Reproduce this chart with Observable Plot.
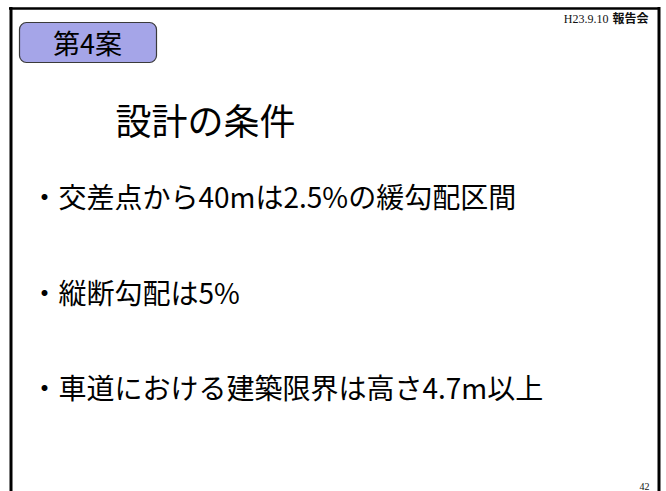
<!DOCTYPE html>
<html>
<head>
<meta charset="utf-8">
<script src="https://cdn.jsdelivr.net/npm/d3@7"></script>
<script src="https://cdn.jsdelivr.net/npm/@observablehq/plot@0.6"></script>
<style>
  html, body { margin: 0; padding: 0; background: #fff; }
  #chart svg { display: block; }
</style>
</head>
<body>
<div id="chart"></div>
<script>
// ---- content ----
const badge = ["第4案"];
const title = ["設計の条件"];
const bullets = [
  "・交差点から40mは2.5%の緩勾配区間",
  "・縦断勾配は5%",
  "・車道における建築限界は高さ4.7m以上"
];
const headerDate = ["H23.9.10"];
const headerLabel = ["報告会"];
const pageNo = ["42"];

// ---- layout (slide pixel space) ----
const W = 666, H = 491;
const jp = "'Noto Sans CJK JP', 'Noto Sans', sans-serif";
const serif = "'Liberation Serif', 'DejaVu Serif', serif";

const chart = Plot.plot({
  width: W,
  height: H,
  margin: 0,
  x: {domain: [0, W], range: [0, W], axis: null},
  y: {domain: [0, H], range: [0, H], axis: null},
  style: {background: "#fff", fontFamily: jp, overflow: "visible"},
  marks: [
    // slide frame
    Plot.ruleY([8], {x1: 9, x2: 660, stroke: "#000", strokeWidth: 2.5}),
    Plot.ruleX([10.5], {y1: 7, y2: H, stroke: "#000", strokeWidth: 3}),
    Plot.ruleX([658.5], {y1: 7, y2: H, stroke: "#000", strokeWidth: 3}),
    // header
    Plot.text(headerLabel, {x: 648, y: 19, text: d => d, textAnchor: "end",
      fontSize: 12, fontWeight: "bold", fontFamily: jp, fill: "#111"}),
    Plot.text(headerDate, {x: 608, y: 19, text: d => d, textAnchor: "end",
      fontSize: 12, fontFamily: serif, fill: "#111"}),
    // badge
    Plot.rect(badge, {x1: 19.5, x2: 156.5, y1: 22.5, y2: 62.5, rx: 7, ry: 7,
      fill: "#a5a5e8", stroke: "#3a3a3a", strokeWidth: 1.2}),
    Plot.text(badge, {x: 87, y: 45, text: d => d, fontSize: 27, fill: "#000"}),
    // title
    Plot.text(title, {x: 115, y: 123, text: d => d, textAnchor: "start",
      fontSize: 36, fill: "#000"}),
    // bullets
    Plot.text(bullets, {x: 30, y: (d, i) => 199 + i * 95.5, text: d => d,
      textAnchor: "start", fontSize: 28, fill: "#000"}),
    // page number
    Plot.text(pageNo, {x: 649, y: 486.5, text: d => d, textAnchor: "end",
      fontSize: 10, fontFamily: serif, fill: "#111"})
  ]
});
document.getElementById("chart").appendChild(chart);
</script>
</body>
</html>
